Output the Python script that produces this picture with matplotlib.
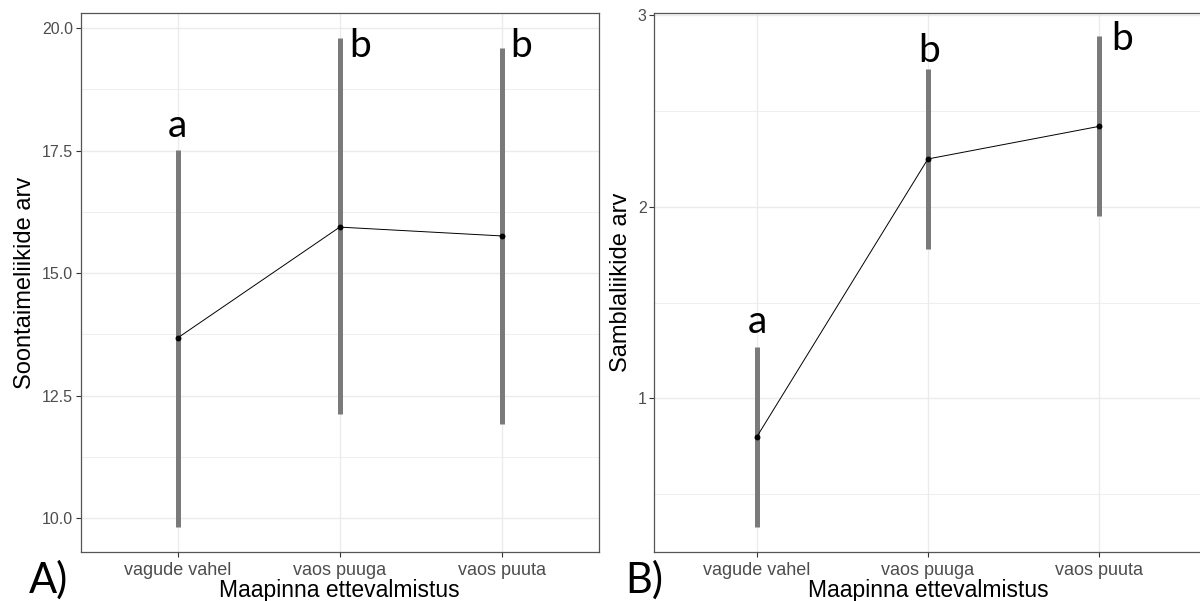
import matplotlib
matplotlib.use("Agg")
from matplotlib import pyplot as plt
from matplotlib.ticker import MultipleLocator

categories = ["vagude vahel", "vaos puuga", "vaos puuta"]

# A) soontaimed
vasc_mean = [13.68, 15.94, 15.76]
vasc_low = [9.83, 12.12, 11.92]
vasc_high = [17.51, 19.80, 19.59]
vasc_letters = ["a", "b", "b"]

# B) samblad
moss_mean = [0.80, 2.25, 2.42]
moss_low = [0.33, 1.78, 1.95]
moss_high = [1.27, 2.72, 2.89]
moss_letters = ["a", "b", "b"]

TXT = "#4D4D4D"


def panel(ax, mean, low, high, ylabel, major, minor, ylim, yfmt):
    x = list(range(1, len(categories) + 1))
    ax.vlines(x, low, high, color="#7a7a7a", lw=3.6, zorder=3)
    ax.plot(x, mean, color="black", lw=0.7, zorder=4)
    ax.plot(x, mean, "o", color="black", ms=3.2, zorder=5)
    ax.set_xlim(0.4, 3.6)
    ax.set_ylim(*ylim)
    ax.set_xticks(x)
    ax.set_xticklabels(categories, fontsize=13, color=TXT, family="Liberation Sans")
    ax.yaxis.set_major_locator(MultipleLocator(major))
    ax.yaxis.set_minor_locator(MultipleLocator(minor))
    ax.set_yticklabels([yfmt.format(t) for t in ax.get_yticks()])
    for lab in ax.get_yticklabels():
        lab.set_fontsize(11.5)
        lab.set_color(TXT)
        lab.set_family("Liberation Sans")
    ax.tick_params(axis="both", which="major", length=3.5, width=0.8, color="#333333", pad=2)
    ax.tick_params(axis="x", which="major", pad=4)
    ax.tick_params(axis="y", which="minor", length=0)
    ax.grid(True, which="major", color="#EBEBEB", lw=1.0, zorder=0)
    ax.grid(True, which="minor", axis="y", color="#EBEBEB", lw=0.6, zorder=0)
    ax.set_axisbelow(True)
    for s in ax.spines.values():
        s.set_color("#555555")
        s.set_linewidth(0.9)
    ax.set_xlabel("Maapinna ettevalmistus", fontsize=16.5, family="Liberation Sans", labelpad=0)
    ax.set_ylabel(ylabel, fontsize=17, family="Liberation Sans", labelpad=4)


fig = plt.figure(figsize=(12, 6.01), dpi=100)
axA = fig.add_axes([80.5 / 1200, 1 - 551.6 / 601, (599 - 80.5) / 1200, (551.6 - 13.4) / 601])
axB = fig.add_axes([654.3 / 1200, 1 - 551.6 / 601, (1201.5 - 654.3) / 1200, (551.6 - 13.4) / 601])

panel(axA, vasc_mean, vasc_low, vasc_high, "Soontaimeliikide arv", 2.5, 1.25, (9.32, 20.3), "{:.1f}")
panel(axB, moss_mean, moss_low, moss_high, "Samblaliikide arv", 1, 0.5, (0.2, 3.01), "{:.0f}")

lf = dict(fontsize=28, family="Lato", color="black", va="baseline")
axA.text(1, 17.78, vasc_letters[0], ha="center", **lf)
axA.text(2.06, 19.42, vasc_letters[1], ha="left", **lf)
axA.text(3.05, 19.42, vasc_letters[2], ha="left", **lf)
axB.text(1, 1.34, moss_letters[0], ha="center", **lf)
axB.text(2.01, 2.756, moss_letters[1], ha="center", **lf)
axB.text(3.07, 2.82, moss_letters[2], ha="left", **lf)

fig.text(29 / 1200, 1 - 593 / 601, "A)", fontsize=30, family="Lato", va="baseline")
fig.text(625 / 1200, 1 - 593 / 601, "B)", fontsize=30, family="Lato", va="baseline")

fig.savefig("out.png", dpi=100)
